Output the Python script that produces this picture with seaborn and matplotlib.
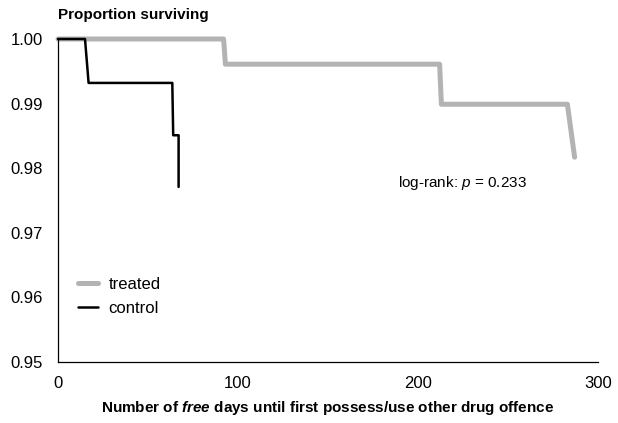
import pandas as pd
import matplotlib
matplotlib.use("Agg")
import matplotlib.pyplot as plt
import seaborn as sns

# survival curves (days, proportion surviving)
treated_days = [0, 92, 93, 212, 213, 283, 287]
treated_surv = [1.0, 1.0, 0.9961, 0.9961, 0.9899, 0.9899, 0.9817]
control_days = [0, 15, 17, 63.5, 64, 67, 67]
control_surv = [1.0, 1.0, 0.9932, 0.9932, 0.9851, 0.9851, 0.9771]

groups = ["treated", "control"]
colors = {"treated": "#b3b3b3", "control": "#000000"}
widths = {"treated": 3.6, "control": 1.8}

df = pd.concat([
    pd.DataFrame({"days": treated_days, "surv": treated_surv, "group": "treated"}),
    pd.DataFrame({"days": control_days, "surv": control_surv, "group": "control"}),
])

sns.set_style("white")
plt.rcParams["font.family"] = ["Liberation Sans", "DejaVu Sans"]
plt.rcParams["text.color"] = "black"
plt.rcParams["mathtext.fontset"] = "custom"
plt.rcParams["mathtext.it"] = "Liberation Sans:italic:bold"
plt.rcParams["mathtext.sf"] = "Liberation Sans:italic"

fig = plt.figure(figsize=(6.18, 4.23), dpi=100)
ax = fig.add_axes([58 / 618, 1 - 362 / 423, 540 / 618, 323 / 423])

for g in groups:
    sub = df[df["group"] == g]
    sns.lineplot(data=sub, x="days", y="surv", sort=False, estimator=None,
                 color=colors[g], lw=widths[g], ax=ax, label=g,
                 solid_capstyle="round", solid_joinstyle="round", clip_on=False)

ax.set_xlim(0, 300)
ax.set_ylim(0.95, 1.0)
ax.set_xticks([0, 100, 200, 300])
ax.set_yticks([0.95, 0.96, 0.97, 0.98, 0.99, 1.00])
ax.set_yticklabels(["0.95", "0.96", "0.97", "0.98", "0.99", "1.00"])
ax.tick_params(direction="in", length=4, width=0.8, labelsize=12,
               colors="black", labelcolor="black")
ax.tick_params(axis="y", pad=11)
ax.tick_params(axis="x", pad=10)
sns.despine(ax=ax)
for s in ["left", "bottom"]:
    ax.spines[s].set_color("black")
    ax.spines[s].set_linewidth(0.9)

ax.set_xlabel(r"Number of $free$ days until first possess/use other drug offence",
              fontsize=11, fontweight="bold", labelpad=6, color="black")
ax.set_ylabel("")
fig.text(58 / 618, 1 - 15 / 423, "Proportion surviving", fontsize=11,
         fontweight="bold", ha="left", va="center", color="black")
ax.text(0.63, 0.555, r"log-rank: $\mathsf{p}$ = 0.233", transform=ax.transAxes,
        fontsize=11, ha="left", va="center", color="black")

leg = ax.legend(loc="center left", bbox_to_anchor=(0.01, 0.204), frameon=False,
                fontsize=12, handlelength=1.2, handletextpad=0.6, labelspacing=0.55)
for t in leg.get_texts():
    t.set_color("black")

fig.savefig("out.png", dpi=100)
